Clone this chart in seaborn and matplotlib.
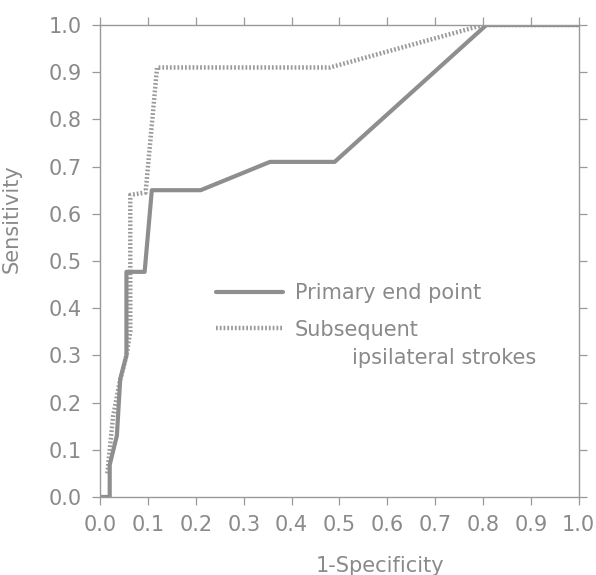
import matplotlib

matplotlib.use("Agg")
import matplotlib.pyplot as plt  # noqa: E402
import pandas as pd  # noqa: E402
import seaborn as sns  # noqa: E402

sns.set_theme(style="ticks")
plt.rcParams["font.family"] = ["DejaVu Sans"]

GREY = "#8e8e8e"
TEXT = "#8a8a8a"

# ROC-кривые
primary_x = [0.0, 0.02, 0.02, 0.035, 0.042, 0.055, 0.055, 0.093, 0.108, 0.21, 0.355, 0.49, 0.807, 1.0]
primary_y = [0.0, 0.0, 0.068, 0.13, 0.25, 0.30, 0.477, 0.477, 0.65, 0.65, 0.71, 0.71, 1.0, 1.0]

subseq_x = [0.015, 0.027, 0.04, 0.055, 0.063, 0.063, 0.095, 0.119, 0.48, 0.80, 1.0]
subseq_y = [0.05, 0.17, 0.24, 0.30, 0.35, 0.64, 0.645, 0.91, 0.91, 1.0, 1.0]

ticks = [i / 10 for i in range(11)]
tick_labels = [f"{t:.1f}" for t in ticks]

df_primary = pd.DataFrame({"x": primary_x, "y": primary_y})
df_subseq = pd.DataFrame({"x": subseq_x, "y": subseq_y})

fig = plt.figure(figsize=(5.96, 5.75), dpi=100)
ax = fig.add_axes([0.168, 0.1357, 0.803, 0.8208])

sns.lineplot(data=df_subseq, x="x", y="y", sort=False, estimator=None, ax=ax,
             color="#9a9a9a", linewidth=3.2, linestyle=(0, (0.4, 0.45)),
             label="Subsequent")
sns.lineplot(data=df_primary, x="x", y="y", sort=False, estimator=None, ax=ax,
             color=GREY, linewidth=3.0, label="Primary end point")

ax.set_xlim(0, 1)
ax.set_ylim(0, 1)
ax.set_xticks(ticks)
ax.set_xticklabels(tick_labels)
ax.set_yticks(ticks)
ax.set_yticklabels(tick_labels)

for side in ["top", "right", "bottom", "left"]:
    ax.spines[side].set_visible(True)
    ax.spines[side].set_color("#999999")
    ax.spines[side].set_linewidth(1.0)

ax.tick_params(direction="out", length=6, width=0.9, color="#999999",
               labelsize=15, labelcolor=TEXT, pad=7,
               top=True, right=True)

ax.set_xlabel("1-Specificity", fontsize=15, color=TEXT)
ax.set_ylabel("Sensitivity", fontsize=15, color=TEXT)
ax.xaxis.set_label_coords(0.585, -0.125)
ax.yaxis.set_label_coords(-0.163, 0.589)

handles, labels = ax.get_legend_handles_labels()
leg = ax.legend(handles[::-1], labels[::-1], loc="upper left",
                bbox_to_anchor=(0.22, 0.475), frameon=False, fontsize=15,
                handlelength=3.2, handletextpad=0.6, labelspacing=0.79,
                borderpad=0)
for txt in leg.get_texts():
    txt.set_color(TEXT)

# вторая строка подписи с отступом, как в оригинале
ax.text(0.526, 0.294, "ipsilateral strokes", transform=ax.transAxes,
        fontsize=15, color=TEXT, va="center", ha="left")

fig.savefig("out.png", dpi=100, facecolor="white")
